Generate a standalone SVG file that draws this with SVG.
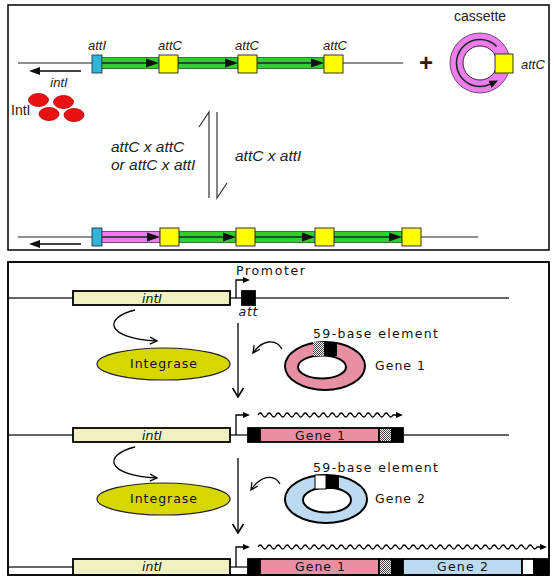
<svg xmlns="http://www.w3.org/2000/svg" width="554" height="577" viewBox="0 0 554 577">
<defs>
<style>
.frame{fill:#fff;stroke:#000;stroke-width:1.5}
.dna1{stroke:#6a6a6a;stroke-width:1.3;fill:none}
.dna2{stroke:#333;stroke-width:1.5;fill:none}
.cyan{fill:#2fb5d8;stroke:#223;stroke-width:0.8}
.yel{fill:#ffff00;stroke:#333;stroke-width:1}
.grn{fill:#33cc33;stroke:#1f5f1f;stroke-width:0.8}
.pnk{fill:#ea7eea;stroke:#5a2a5a;stroke-width:0.8}
.mid{stroke:#1a2a1a;stroke-width:1.3;fill:none}
.tri{fill:#111}
.t1{font-family:"Liberation Sans",Arial,sans-serif;fill:#222}
.it{font-style:italic}
.t2{font-family:"DejaVu Sans",Verdana,sans-serif;fill:#111;font-size:12.5px}
.box{stroke:#000;stroke-width:1.8}
.intI{fill:#f0f0c0}
.gene1{fill:#e890a3}
.gene2{fill:#bcdaf0}
.blk{fill:#000}
.wht{fill:#fff}
.chk{fill:url(#chk)}
.conn{stroke:#000;stroke-width:1.3;fill:none}
.harp{stroke:#333;stroke-width:1.2;fill:none}
.integ{fill:#d6d600;stroke:#222;stroke-width:1.2}
</style>
<pattern id="chk" width="2" height="2" patternUnits="userSpaceOnUse">
<rect width="2" height="2" fill="#fff"/>
<rect width="1" height="1" fill="#444"/>
<rect x="1" y="1" width="1" height="1" fill="#444"/>
</pattern>
<marker id="la" viewBox="0 0 11 8" refX="0" refY="4" markerWidth="11" markerHeight="8" markerUnits="userSpaceOnUse" orient="auto"><path d="M0,0 L11,4 L0,8z" fill="#111"/></marker>
<marker id="ca" viewBox="0 0 9 8" refX="0" refY="4" markerWidth="9" markerHeight="8" markerUnits="userSpaceOnUse" orient="auto"><path d="M0,0 L9,4 L0,8z" fill="#111"/></marker>
<marker id="pa" viewBox="0 0 7 6" refX="0" refY="3" markerWidth="7" markerHeight="6" markerUnits="userSpaceOnUse" orient="auto"><path d="M0,0 L7,3 L0,6z" fill="#000"/></marker>
<marker id="ov" viewBox="0 0 9 12" refX="9" refY="6" markerWidth="9" markerHeight="12" markerUnits="userSpaceOnUse" orient="auto" overflow="visible"><path d="M0,0.5 L9,6 L0,11.5" fill="none" stroke="#000" stroke-width="1.6"/></marker>
<marker id="oc" viewBox="0 0 7 8" refX="7" refY="4" markerWidth="7" markerHeight="8" markerUnits="userSpaceOnUse" orient="auto" overflow="visible"><path d="M0,0.5 L7,4 L0,7.5" fill="none" stroke="#000" stroke-width="1.3"/></marker>
</defs>

<g id="frames">
<rect class="frame" x="8" y="5" width="541" height="245"/>
<rect class="frame" x="8" y="262" width="541" height="313"/>
</g>

<!-- ===== Top panel ===== -->
<g id="array-top">
<path class="dna1" d="M18,63 H92 M343,63 H403"/>
<rect class="cyan" x="92" y="55" width="10" height="18"/>
<rect class="grn" x="102" y="57.5" width="57" height="11"/>
<rect class="grn" x="178" y="57.5" width="60" height="11"/>
<rect class="grn" x="257" y="57.5" width="67" height="11"/>
<path class="mid" d="M102,63 H147 M178,63 H226 M257,63 H312"/>
<polygon class="tri" points="146,58.5 159,63 146,67.5"/>
<polygon class="tri" points="225,58.5 238,63 225,67.5"/>
<polygon class="tri" points="311,58.5 324,63 311,67.5"/>
<rect class="yel" x="159" y="55" width="19" height="18"/>
<rect class="yel" x="238" y="55" width="19" height="18"/>
<rect class="yel" x="324" y="55" width="19" height="18"/>
<text class="t1 it" x="97" y="50" font-size="13" text-anchor="middle">attI</text>
<text class="t1 it" x="170" y="50" font-size="13" text-anchor="middle">attC</text>
<text class="t1 it" x="247" y="50" font-size="13" text-anchor="middle">attC</text>
<text class="t1 it" x="335" y="50" font-size="13" text-anchor="middle">attC</text>
<text class="t1 it" x="59" y="87" font-size="13" text-anchor="middle">intI</text>
</g>

<g id="integrase-proteins">
<ellipse cx="38.5" cy="100" rx="10" ry="6.5" fill="#e81212" stroke="#a00" stroke-width="0.8"/>
<ellipse cx="63.5" cy="102" rx="10" ry="6.5" fill="#e81212" stroke="#a00" stroke-width="0.8"/>
<ellipse cx="49" cy="114" rx="10" ry="6.5" fill="#e81212" stroke="#a00" stroke-width="0.8"/>
<ellipse cx="74" cy="115" rx="10" ry="6.5" fill="#e81212" stroke="#a00" stroke-width="0.8"/>
<text class="t1" x="11" y="115" font-size="14">IntI</text>
</g>

<g id="plus">
<text class="t1" x="426" y="71" font-size="24" font-weight="bold" text-anchor="middle" fill="#111">+</text>
</g>

<g id="cassette">
<circle cx="480" cy="63" r="30" class="pnk"/>
<circle cx="480" cy="63" r="17" fill="#fff" stroke="#3a1a3a" stroke-width="1"/>
<path d="M496.6,46.4 A23.5,23.5 0 1 0 489.9,84.3" fill="none" stroke="#222" stroke-width="1.5" marker-end="url(#ca)"/>
<rect class="yel" x="495" y="54" width="18" height="19"/>
<text class="t1" x="480" y="21" font-size="14" text-anchor="middle">cassette</text>
<text class="t1 it" x="521" y="69" font-size="13">attC</text>
</g>

<g id="reaction-labels">
<text class="t1 it" x="111" y="152" font-size="15.5">attC x attC</text>
<text class="t1 it" x="111" y="170" font-size="15.5">or attC x attI</text>
<text class="t1 it" x="235" y="161" font-size="15.5">attC x attI</text>
</g>

<g id="array-bottom">
<path class="dna1" d="M18,237 H92 M421,237 H478"/>
<rect class="cyan" x="92" y="228" width="10" height="18"/>
<rect class="pnk" x="102" y="231.5" width="58" height="11"/>
<rect class="grn" x="179" y="231.5" width="57" height="11"/>
<rect class="grn" x="255" y="231.5" width="60" height="11"/>
<rect class="grn" x="334" y="231.5" width="68" height="11"/>
<path class="mid" d="M102,237 H149 M179,237 H225 M255,237 H302 M334,237 H390"/>
<polygon class="tri" points="147,232.5 160,237 147,241.5"/>
<polygon class="tri" points="223,232.5 236,237 223,241.5"/>
<polygon class="tri" points="302,232.5 315,237 302,241.5"/>
<polygon class="tri" points="389,232.5 402,237 389,241.5"/>
<rect class="yel" x="160" y="228" width="19" height="18"/>
<rect class="yel" x="236" y="228" width="19" height="18"/>
<rect class="yel" x="315" y="228" width="19" height="18"/>
<rect class="yel" x="402" y="228" width="19" height="18"/>
</g>

<!-- ===== Bottom panel ===== -->
<g id="row1">
<path class="dna2" d="M8,298 H73 M230,298 H242 M255,298 H509"/>
<rect class="box intI" x="73" y="291" width="157" height="14"/>
<rect class="box blk" x="242" y="291" width="13" height="14"/>
<text class="t2 it" x="152" y="302.5" text-anchor="middle" textLength="20" lengthAdjust="spacing">intI</text>
<text class="t2" x="236" y="275" textLength="69" lengthAdjust="spacing">Promoter</text>
<text class="t2 it" x="248" y="315.5" text-anchor="middle" textLength="19" lengthAdjust="spacing">att</text>
</g>

<g id="integrase1">
<ellipse class="integ" cx="163.5" cy="364" rx="66.5" ry="16"/>
<text class="t2" x="130" y="368" textLength="67" lengthAdjust="spacing">Integrase</text>
</g>

<g id="gene1-cassette">
<ellipse cx="325" cy="366" rx="40" ry="24" class="gene1" stroke="#000" stroke-width="2"/>
<ellipse cx="322" cy="367" rx="24" ry="11.5" fill="#fff" stroke="#000" stroke-width="2"/>
<rect class="chk" x="313" y="342" width="11" height="14"/>
<rect class="blk" x="324" y="342" width="13" height="14"/>
<text class="t2" x="313" y="338" textLength="125" lengthAdjust="spacing">59-base element</text>
<text class="t2" x="375" y="370" textLength="50" lengthAdjust="spacing">Gene 1</text>
</g>

<g id="row2">
<path class="dna2" d="M8,435 H73 M230,435 H248 M403,435 H509"/>
<rect class="box intI" x="73" y="428" width="157" height="14"/>
<rect class="box blk" x="248" y="428" width="12" height="14"/>
<rect class="box gene1" x="260" y="428" width="119" height="14"/>
<rect class="chk" x="379" y="428" width="13" height="14" stroke="#000" stroke-width="1.8"/>
<rect class="box blk" x="392" y="428" width="11" height="14"/>
<text class="t2 it" x="152" y="439.5" text-anchor="middle" textLength="20" lengthAdjust="spacing">intI</text>
<text class="t2" x="295" y="439.5" textLength="50" lengthAdjust="spacing">Gene 1</text>
</g>

<g id="integrase2">
<ellipse class="integ" cx="163.5" cy="499" rx="66.5" ry="16"/>
<text class="t2" x="130" y="503" textLength="67" lengthAdjust="spacing">Integrase</text>
</g>

<g id="gene2-cassette">
<ellipse cx="326" cy="499" rx="41" ry="24" class="gene2" stroke="#000" stroke-width="2"/>
<ellipse cx="327" cy="500" rx="24" ry="12.5" fill="#fff" stroke="#000" stroke-width="2"/>
<rect class="wht" x="315" y="475" width="11" height="14" stroke="#000" stroke-width="1"/>
<rect class="blk" x="326" y="475" width="13" height="14"/>
<text class="t2" x="313" y="472" textLength="125" lengthAdjust="spacing">59-base element</text>
<text class="t2" x="375" y="503" textLength="50" lengthAdjust="spacing">Gene 2</text>
</g>

<g id="row3">
<path class="dna2" d="M8,567 H73 M230,567 H248"/>
<rect class="box intI" x="73" y="559" width="157" height="16"/>
<rect class="box blk" x="248" y="559" width="12" height="16"/>
<rect class="box gene1" x="260" y="559" width="119" height="16"/>
<rect class="chk" x="379" y="559" width="13" height="16" stroke="#000" stroke-width="1.8"/>
<rect class="box blk" x="392" y="559" width="11" height="16"/>
<rect class="box gene2" x="403" y="559" width="119" height="16"/>
<rect class="box wht" x="522" y="559" width="12" height="16"/>
<rect class="box blk" x="534" y="559" width="14" height="16"/>
<text class="t2 it" x="152" y="571" text-anchor="middle" textLength="20" lengthAdjust="spacing">intI</text>
<text class="t2" x="295" y="571" textLength="50" lengthAdjust="spacing">Gene 1</text>
<text class="t2" x="437" y="571" textLength="51" lengthAdjust="spacing">Gene 2</text>
</g>

<g id="connectors">
<path class="conn" d="M81,71 H40" marker-end="url(#la)"/>
<path class="conn" d="M81,244 H40" marker-end="url(#la)"/>
<path class="harp" d="M209,198 V112 L199,127"/>
<path class="harp" d="M217,112 V198 L227,183"/>
<path class="conn" d="M236,298 V280 H243" marker-end="url(#pa)"/>
<path class="conn" d="M236,435 V415 H243" marker-end="url(#pa)"/>
<path class="conn" d="M236,567 V547 H243" marker-end="url(#pa)"/>
<path class="conn" d="M238,323 V397" marker-end="url(#ov)"/>
<path class="conn" d="M238,458 V533" marker-end="url(#ov)"/>
<path class="conn" stroke-width="1.1" d="M135,310 C103,318 105,338 157,341" marker-end="url(#oc)"/>
<path class="conn" stroke-width="1.1" d="M135,447 C103,455 105,475 157,478" marker-end="url(#oc)"/>
<path class="conn" stroke-width="1.1" d="M282,349 C276,338 262,340 253,353" marker-end="url(#oc)"/>
<path class="conn" stroke-width="1.1" d="M280,484 C274,473 260,476 251,490" marker-end="url(#oc)"/>
<path class="conn" stroke-width="1" d="M258,415 q2.25,-4 4.5,0 t4.5,0 t4.5,0 t4.5,0 t4.5,0 t4.5,0 t4.5,0 t4.5,0 t4.5,0 t4.5,0 t4.5,0 t4.5,0 t4.5,0 t4.5,0 t4.5,0 t4.5,0 t4.5,0 t4.5,0 t4.5,0 t4.5,0 t4.5,0 t4.5,0 t4.5,0 t4.5,0 t4.5,0 t4.5,0 t4.5,0 t4.5,0 t4.5,0 t4.5,0 h3" marker-end="url(#pa)"/>
<path class="conn" stroke-width="1" d="M258,547 q2.25,-4 4.5,0 t4.5,0 t4.5,0 t4.5,0 t4.5,0 t4.5,0 t4.5,0 t4.5,0 t4.5,0 t4.5,0 t4.5,0 t4.5,0 t4.5,0 t4.5,0 t4.5,0 t4.5,0 t4.5,0 t4.5,0 t4.5,0 t4.5,0 t4.5,0 t4.5,0 t4.5,0 t4.5,0 t4.5,0 t4.5,0 t4.5,0 t4.5,0 t4.5,0 t4.5,0 t4.5,0 t4.5,0 t4.5,0 t4.5,0 t4.5,0 t4.5,0 t4.5,0 t4.5,0 t4.5,0 t4.5,0 t4.5,0 t4.5,0 t4.5,0 t4.5,0 t4.5,0 t4.5,0 t4.5,0 t4.5,0 t4.5,0 t4.5,0 t4.5,0 t4.5,0 t4.5,0 t4.5,0 t4.5,0 t4.5,0 t4.5,0 t4.5,0 t4.5,0 t4.5,0 t4.5,0 t4.5,0 h3" marker-end="url(#pa)"/>
</g>

<g id="frame-outline">
<rect x="8" y="262" width="541" height="313" fill="none" stroke="#000" stroke-width="1.5"/>
</g>
</svg>
